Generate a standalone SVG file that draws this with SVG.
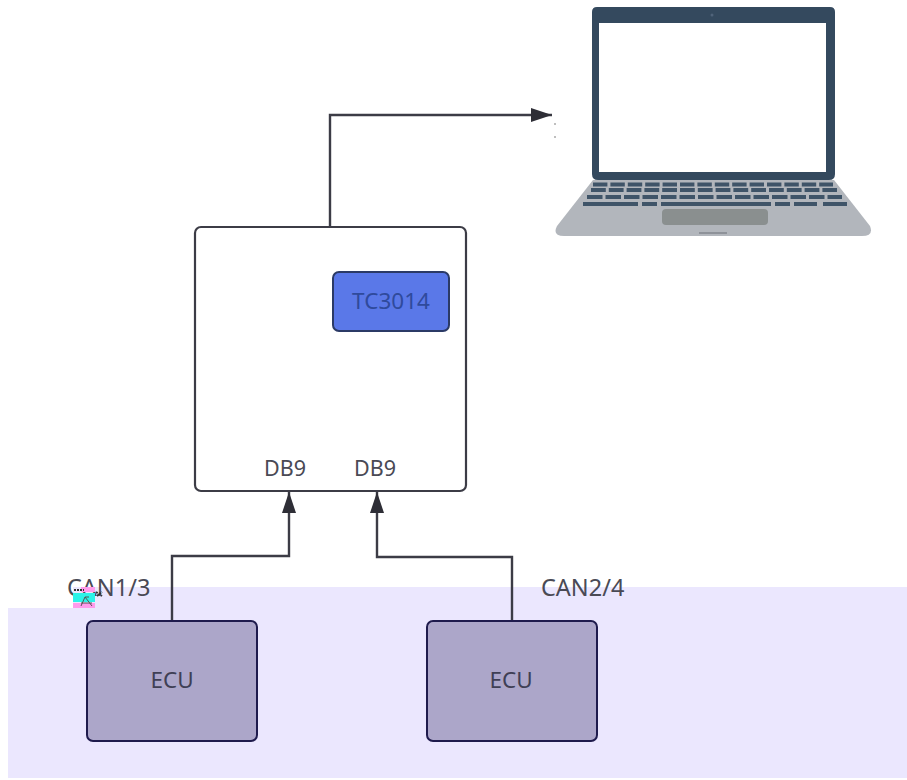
<svg xmlns="http://www.w3.org/2000/svg" width="907" height="780" viewBox="0 0 907 780">
<style>
.t{font-family:"Noto Sans","Open Sans",sans-serif;font-size:21.5px;fill:#4a4a55}
.l{font-family:"Noto Sans","Open Sans",sans-serif;font-size:23.5px;fill:#4a4a55}
.c{font-family:"Noto Sans","Open Sans",sans-serif;font-size:22.5px;fill:#3f3f55;text-anchor:middle}
.ecu{fill:#aca6c9;stroke:#1f1b4d;stroke-width:2}
.conn{fill:none;stroke:#3c3c46;stroke-width:2.4}
.key{stroke:#3f5468;stroke-width:4;fill:none}
</style>
<defs>
<marker id="arrow" markerUnits="userSpaceOnUse" markerWidth="22" markerHeight="16" refX="21" refY="8" orient="auto">
<path d="M0,1 L21,8 L0,15 Z" fill="#2e2e36"/>
</marker>
</defs>
<rect width="907" height="780" fill="#fff"/>
<path id="background" d="M73,587 H907 V778 H8 V608 H73 Z" fill="#ebe7fe"/>
<g id="connectors">
<path class="conn" d="M330,227 V115 H552" marker-end="url(#arrow)"/>
<path class="conn" d="M172,621 V556 H289 V492" marker-end="url(#arrow)"/>
<path class="conn" d="M512,621 V557 H377 V492" marker-end="url(#arrow)"/>
</g>
<g id="main-box">
<rect x="195" y="227" width="271" height="264" rx="6" fill="#fff" stroke="#3c3c46" stroke-width="2.2"/>
<text class="t" x="264" y="476">DB9</text>
<text class="t" x="354" y="476">DB9</text>
</g>
<g id="tc3014">
<rect x="333" y="272" width="116" height="59" rx="6" fill="#5a78e8" stroke="#2b3a66" stroke-width="2"/>
<text class="c" x="391" y="309" style="fill:#2f4a9c">TC3014</text>
</g>
<g id="ecu1">
<rect class="ecu" x="87" y="621" width="170" height="120" rx="6"/>
<text class="c" x="172" y="688">ECU</text>
</g>
<g id="ecu2">
<rect class="ecu" x="427" y="621" width="170" height="120" rx="6"/>
<text class="c" x="511" y="688">ECU</text>
</g>
<g id="label-can1">
<text class="l" x="67" y="596">CAN1/3</text>
<path d="M81,587 H95 V592 H81 Z" fill="#ff9bec"/>
<path d="M73,593 H95 V602 H73 Z" fill="#2cf3e8"/>
<path d="M73,603 H95 V608 H73 Z" fill="#ff9bec"/>
<path d="M85,597 L81,606 M85,597 L92,606 M81,603 H92 M85,597 H89" stroke="#555" stroke-width="1" fill="none"/>
<path d="M74,590 H84 M96,592 L102,596 M97,596 L102,592" stroke="#333" stroke-width="2" stroke-dasharray="2 1" fill="none"/>
</g>
<g id="label-can2">
<text class="l" x="541" y="596">CAN2/4</text>
</g>
<g id="laptop">
<circle cx="555" cy="124" r="1" fill="#aaa"/>
<circle cx="555" cy="137" r="1" fill="#aaa"/>
<path d="M593,180 H834 L870,226 Q874,236 862,236 H564 Q552,236 557,226 Z" fill="#b2b6bc"/>
<path d="M592,12 Q592,7 597,7 H830 Q835,7 835,12 V174 Q835,180 829,180 H598 Q592,180 592,174 Z" fill="#34495e"/>
<rect x="599" y="23" width="227" height="149" fill="#fff"/>
<circle cx="712" cy="15" r="1.5" fill="#50637a"/>
<line class="key" x1="593" y1="184.5" x2="833" y2="184.5" stroke-dasharray="14.4 3"/>
<line class="key" x1="591" y1="190" x2="837" y2="190" stroke-dasharray="14.8 3"/>
<line class="key" x1="587" y1="197" x2="842" y2="197" stroke-dasharray="15.5 3"/>
<path class="key" d="M583,204 H638 M642,204 H657 M661,204 H771 M775,204 H790 M794,204 H817 M823,204 H847"/>
<rect x="662" y="209" width="106" height="16" rx="4" fill="#8a8f8f"/>
<rect x="699" y="232" width="28" height="2" fill="#8e9299"/>
</g>
</svg>
